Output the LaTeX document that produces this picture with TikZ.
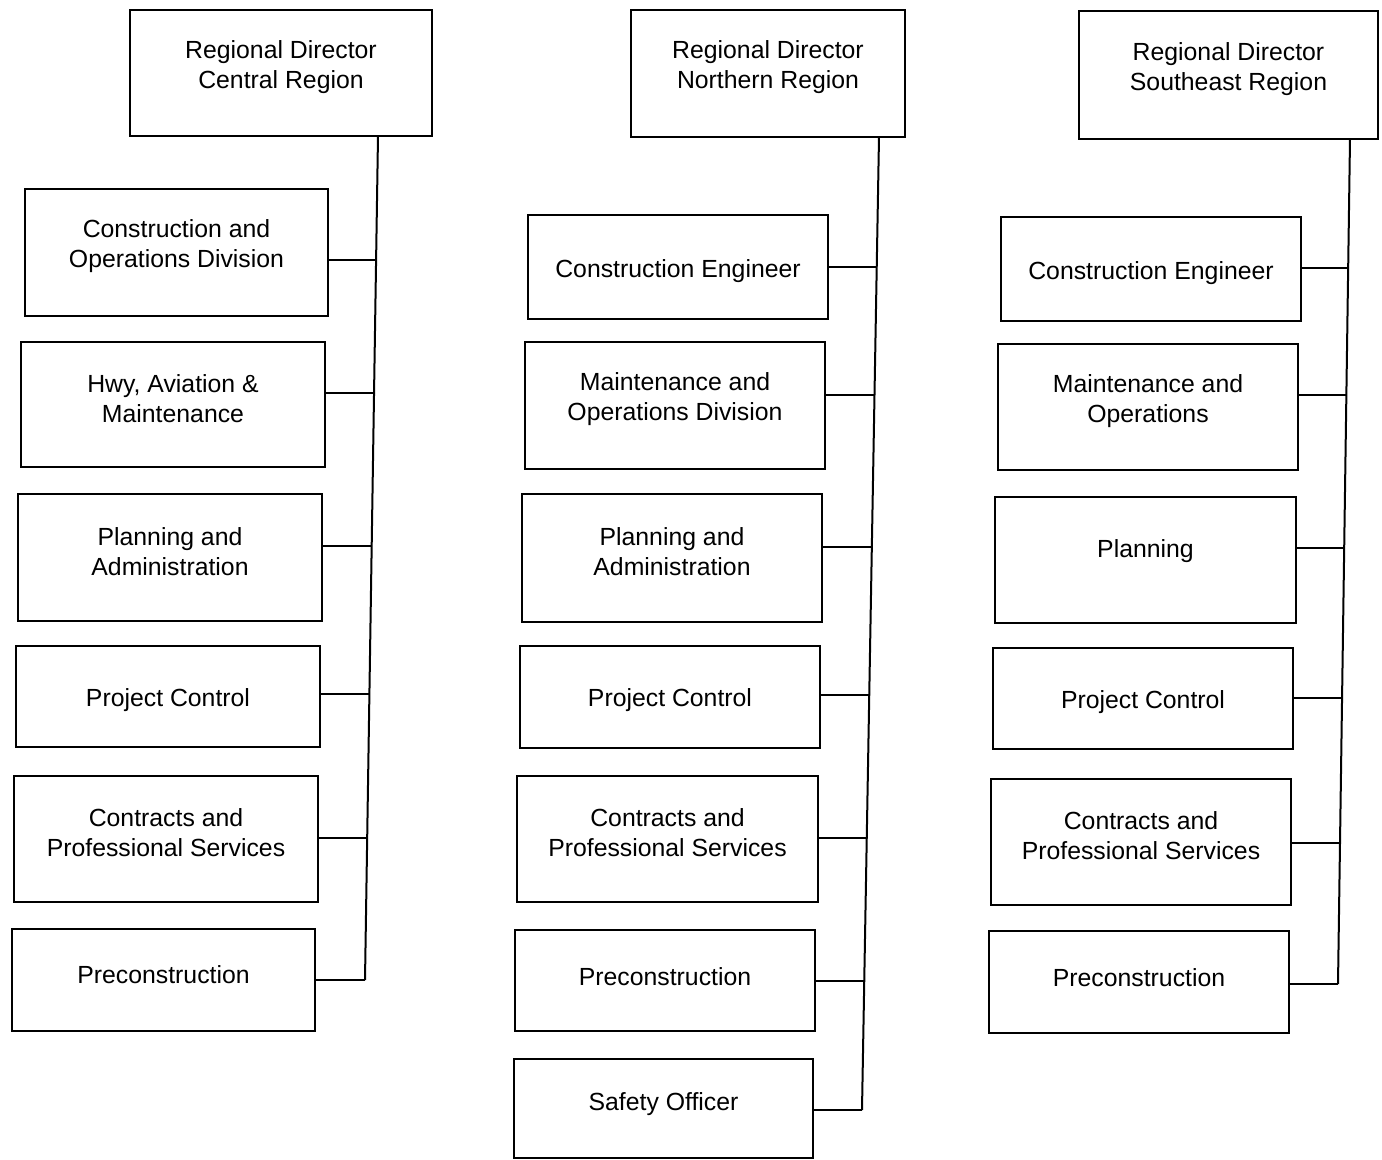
\documentclass[tikz,border=0pt]{standalone}
\usepackage{fontspec}
\setmainfont{Liberation Sans}
\begin{document}
\begin{tikzpicture}[x=0.5pt,y=-0.5pt,
  box/.style={draw=black, line width=1pt, inner sep=0pt, outer sep=0pt},
  label/.style={font=\fontsize{12.4}{15}\selectfont, align=center},
  link/.style={draw=black, line width=1pt}]
\useasboundingbox[fill=white] (0,0) rectangle (1382,1160);
\newcommand\bx[7][-6]{\node[box, minimum width={(#5-#3)*0.5pt}, minimum height={(#6-#4)*0.5pt}] (#2) at ({(#3+#5)/2},{(#4+#6)/2}) {}; \node[label] (#2t) at ({(#3+#5)/2},{(#4+#6)/2+#1}) {#7};}
% Column 1
\bx{h1}{130}{10}{432}{136}{Regional Director\\Central Region}
\bx{a1}{25}{189}{328}{316}{Construction and\\Operations Division}
\bx{a2}{21}{342}{325}{467}{Hwy, Aviation \&\\Maintenance}
\bx{a3}{18}{494}{322}{621}{Planning and\\Administration}
\bx[4]{a4}{16}{646}{320}{747}{Project Control}
\bx{a5}{14}{776}{318}{902}{Contracts and\\Professional Services}
\bx[-5]{a6}{12}{929}{315}{1031}{Preconstruction}
\coordinate (ta0) at (378,136);
\coordinate (ta1) at (376.1,260);
\coordinate (ta2) at (374,393);
\coordinate (ta3) at (371.7,546);
\coordinate (ta4) at (369.4,694);
\coordinate (ta5) at (367.2,838);
\coordinate (ta6) at (365,980);
\draw[link] (ta0) -- (ta6);
\foreach \i in {1,...,6}{\draw[link] (a\i.east |- ta\i) -- (ta\i);}
% Column 2
\bx{h2}{631}{10}{905}{137}{Regional Director\\Northern Region}
\bx[4]{b1}{528}{215}{828}{319}{Construction Engineer}
\bx{b2}{525}{342}{825}{469}{Maintenance and\\Operations Division}
\bx{b3}{522}{494}{822}{622}{Planning and\\Administration}
\bx[3]{b4}{520}{646}{820}{748}{Project Control}
\bx{b5}{517}{776}{818}{902}{Contracts and\\Professional Services}
\bx[-4]{b6}{515}{930}{815}{1031}{Preconstruction}
\bx[-4]{b7}{514}{1059}{813}{1158}{Safety Officer}
\coordinate (tb0) at (879,137);
\coordinate (tb1) at (876.7,267);
\coordinate (tb2) at (874.5,395);
\coordinate (tb3) at (871.8,547);
\coordinate (tb4) at (869.2,695);
\coordinate (tb5) at (866.8,838);
\coordinate (tb6) at (864.3,981);
\coordinate (tb7) at (862,1110);
\draw[link] (tb0) -- (tb7);
\foreach \i in {1,...,7}{\draw[link] (b\i.east |- tb\i) -- (tb\i);}
% Column 3
\bx{h3}{1079}{11}{1378}{139}{Regional Director\\Southeast Region}
\bx[4]{c1}{1001}{217}{1301}{321}{Construction Engineer}
\bx{c2}{998}{344}{1298}{470}{Maintenance and\\Operations}
\bx[-9]{c3}{995}{497}{1296}{623}{Planning}
\bx[4]{c4}{993}{648}{1293}{749}{Project Control}
\bx{c5}{991}{779}{1291}{905}{Contracts and\\Professional Services}
\bx[-4]{c6}{989}{931}{1289}{1033}{Preconstruction}
\coordinate (tc0) at (1350,139);
\coordinate (tc1) at (1348.2,268);
\coordinate (tc2) at (1346.4,395);
\coordinate (tc3) at (1344.2,548);
\coordinate (tc4) at (1342.1,698);
\coordinate (tc5) at (1340,843);
\coordinate (tc6) at (1338,984);
\draw[link] (tc0) -- (tc6);
\foreach \i in {1,...,6}{\draw[link] (c\i.east |- tc\i) -- (tc\i);}
\end{tikzpicture}
\end{document}
